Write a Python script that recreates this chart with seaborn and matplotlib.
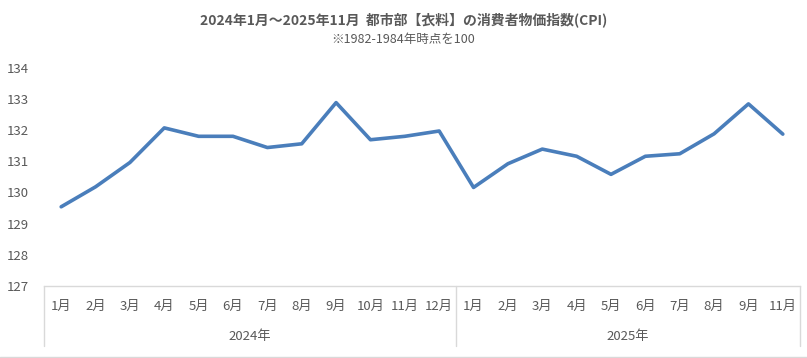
import numpy as np
import pandas as pd
import seaborn as sns
import matplotlib.pyplot as plt
from matplotlib.lines import Line2D

months_2024 = ["1月", "2月", "3月", "4月", "5月", "6月", "7月", "8月", "9月", "10月", "11月", "12月"]
months_2025 = ["1月", "2月", "3月", "4月", "5月", "6月", "7月", "8月", "9月", "11月"]
cpi_2024 = [129.54, 130.18, 130.96, 132.07, 131.80, 131.80, 131.44, 131.56, 132.88, 131.69, 131.80, 131.97]
cpi_2025 = [130.16, 130.92, 131.39, 131.16, 130.58, 131.16, 131.24, 131.88, 132.84, 131.87]
years = ["2024年", "2025年"]
yticks = [127, 128, 129, 130, 131, 132, 133, 134]

title = "2024年1月～2025年11月  都市部【衣料】の消費者物価指数(CPI)"
subtitle = "※1982-1984年時点を100"

sns.set_theme(style="white")
plt.rcParams['font.family'] = ['Noto Sans CJK JP', 'DejaVu Sans']

gray = "#595959"
line_gray = "#d9d9d9"

df = pd.DataFrame({
    "label": months_2024 + months_2025,
    "cpi": cpi_2024 + cpi_2025,
})
df["pos"] = np.arange(len(df))

fig = plt.figure(figsize=(8.07, 3.58), dpi=100)
ax = fig.add_axes([44 / 807, 72 / 358, 756 / 807, 218.3 / 358])

sns.lineplot(data=df, x="pos", y="cpi", ax=ax, color="#4a7ebb", linewidth=2.6)

ax.set_xlim(-0.5, len(df) - 0.5)
ax.set_ylim(127, 134)
ax.set_yticks(yticks)
ax.set_yticklabels([str(t) for t in yticks], fontsize=9.5, color=gray)
ax.tick_params(axis="y", length=0, pad=11)
ax.set_xticks(df["pos"])
ax.set_xticklabels(df["label"], fontsize=9.5, color=gray)
ax.tick_params(axis="x", length=0, pad=10)
ax.set_xlabel("")
ax.set_ylabel("")

for s in ["top", "right", "left"]:
    ax.spines[s].set_visible(False)
ax.spines["bottom"].set_color(line_gray)
ax.spines["bottom"].set_linewidth(1.0)

# year group labels and separators below the axis
trans = ax.get_xaxis_transform()
n24 = len(months_2024)
bounds = [-0.5, n24 - 0.5, len(df) - 0.5]
for b in bounds:
    ax.add_line(Line2D([b, b], [0, -0.275], transform=trans, color=line_gray,
                       linewidth=1.0, clip_on=False))
centers = [(bounds[0] + bounds[1]) / 2, (bounds[1] + bounds[2]) / 2]
for c, yr in zip(centers, years):
    ax.text(c, -0.23, yr, transform=trans, ha="center", va="center",
            fontsize=9.5, color=gray)

fig.add_artist(Line2D([0, 1], [1.5 / 358, 1.5 / 358], transform=fig.transFigure,
                      color=line_gray, linewidth=1.0))

fig.text(0.5, 1 - 20 / 358, title, ha="center", va="center", fontsize=10,
         fontweight="bold", color=gray)
fig.text(0.5, 1 - 40 / 358, subtitle, ha="center", va="center", fontsize=9,
         color=gray)

fig.savefig("out.png", dpi=100)
